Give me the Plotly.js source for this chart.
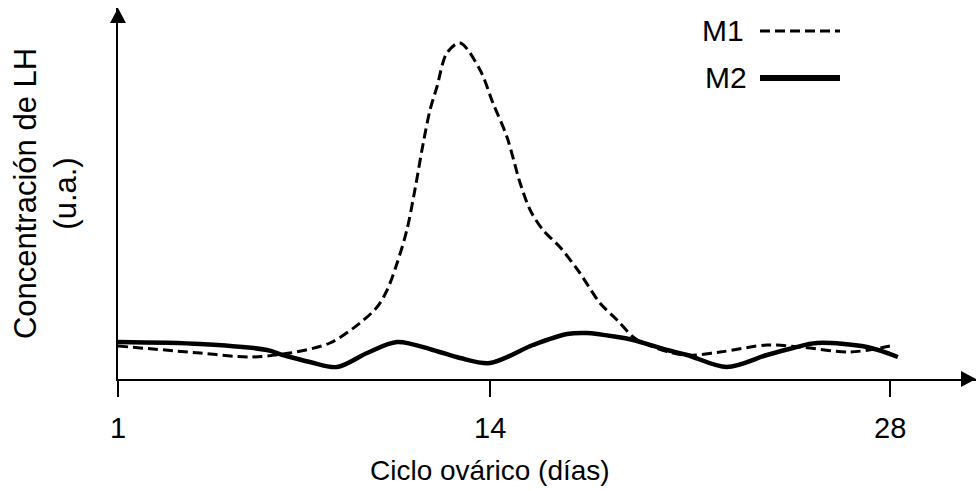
<!DOCTYPE html>
<html>
<head>
<meta charset="utf-8">
<script src="https://cdn.plot.ly/plotly-3.0.1.min.js"></script>
<style>html,body{margin:0;padding:0;background:#fff;}#chart{width:976px;height:491px;}</style>
</head>
<body>
<div id="chart"></div>
<script>
// Day of the ovarian cycle and LH concentration (arbitrary units)
const m1Days = [1.00, 3.87, 5.62, 7.01, 8.41, 9.46, 10.06, 10.41, 10.76, 11.10, 11.38, 11.66, 11.91, 12.15, 12.50, 12.96, 13.66, 14.11, 14.60, 15.06, 15.41, 15.86, 16.45, 17.15, 17.85, 18.45, 19.01, 19.36, 20.76, 22.05, 23.69, 24.85, 26.59, 27.99];
const m1LH   = [33, 26, 22, 26, 36, 56, 72, 89, 116, 149, 189, 234, 269, 292, 326, 336, 309, 276, 242, 196, 169, 149, 132, 106, 76, 59, 42, 36, 24, 27, 34, 32, 27, 33];
const m2Days = [1.00, 3.87, 6.21, 6.77, 7.71, 8.66, 9.71, 10.76, 12.01, 12.96, 14.01, 15.51, 16.70, 17.40, 18.45, 19.01, 20.20, 20.90, 22.29, 23.69, 24.60, 25.44, 27.19, 28.27];
const m2LH   = [37, 35, 29, 24, 17, 12, 26, 37, 29, 21, 16, 34, 45, 46, 42, 39, 29, 24, 12, 24, 31, 36, 32, 22];
const seriesNames = ['M1', 'M2'];
const tickDays = [1, 14, 28];
const tickText = ['1', '14', '28'];
const xTitle = 'Ciclo ovárico (días)';
const yTitle = 'Concentración de LH<br>(u.a.)';

const FONT = 'Liberation Sans, Arial, sans-serif';
const W = 976, H = 491, ML = 118, MR = 0, MT = 8, MB = 112;
const pw = W - ML - MR, ph = H - MT - MB;

const traces = [
  {x: m1Days, y: m1LH, name: seriesNames[0], type: 'scatter', mode: 'lines',
   line: {color: '#000', width: 3, dash: '10px,5px', shape: 'spline', smoothing: 0.9}},
  {x: m2Days, y: m2LH, name: seriesNames[1], type: 'scatter', mode: 'lines',
   line: {color: '#000', width: 4.5, shape: 'spline', smoothing: 0.9}}
];

// arrowheads in paper coordinates
const ax = 15 / pw, ay = 8 / ph;   // x-arrow: length, half-width
const bx = 8 / pw, by = 15 / ph;   // y-arrow: half-width, length
const shapes = [
  {type: 'path', xref: 'paper', yref: 'paper',
   path: `M 1 0 L ${1 - ax} ${ay} L ${1 - ax} ${-ay} Z`, fillcolor: '#000', line: {width: 0}},
  {type: 'path', xref: 'paper', yref: 'paper',
   path: `M 0 1 L ${-bx} ${1 - by} L ${bx} ${1 - by} Z`, fillcolor: '#000', line: {width: 0}},
  // legend samples (text left, line right)
  {type: 'line', xref: 'paper', yref: 'paper', x0: (760 - ML) / pw, x1: (840 - ML) / pw,
   y0: 1 - (31 - MT) / ph, y1: 1 - (31 - MT) / ph, line: {color: '#000', width: 3, dash: '10px,5px'}},
  {type: 'line', xref: 'paper', yref: 'paper', x0: (760 - ML) / pw, x1: (840 - ML) / pw,
   y0: 1 - (78 - MT) / ph, y1: 1 - (78 - MT) / ph, line: {color: '#000', width: 6}}
];

const annotations = [
  {xref: 'paper', yref: 'paper', x: (746 - ML) / pw, y: 1 - (30 - MT) / ph, xanchor: 'right', yanchor: 'middle',
   text: seriesNames[0], showarrow: false, font: {family: FONT, size: 30, color: '#000'}},
  {xref: 'paper', yref: 'paper', x: (749 - ML) / pw, y: 1 - (77 - MT) / ph, xanchor: 'right', yanchor: 'middle',
   text: seriesNames[1], showarrow: false, font: {family: FONT, size: 30, color: '#000'}},
  // x-axis title, centred under day 14 as in the original
  {xref: 'paper', yref: 'paper', x: (490 - ML) / pw, y: -(471 - (H - MB)) / ph, xanchor: 'center', yanchor: 'middle',
   text: xTitle, showarrow: false, font: {family: FONT, size: 28, color: '#000'}}
];
// tick labels placed on the x scale at each tick day
tickDays.forEach((d, i) => annotations.push({
  xref: 'x', yref: 'paper', x: d, y: -(428 - (H - MB)) / ph, xanchor: 'center', yanchor: 'middle',
  text: tickText[i], showarrow: false, font: {family: FONT, size: 29, color: '#000'}
}));

const layout = {
  width: W, height: H,
  margin: {l: ML, r: MR, t: MT, b: MB, pad: 0},
  paper_bgcolor: '#fff', plot_bgcolor: '#fff',
  showlegend: false,
  font: {family: FONT, color: '#000', size: 29},
  xaxis: {
    range: [1, 31], showgrid: false, zeroline: false,
    showline: true, linecolor: '#000', linewidth: 2,
    ticks: 'outside', ticklen: 16, tickwidth: 2, tickcolor: '#000',
    tickmode: 'array', tickvals: tickDays, showticklabels: false
  },
  yaxis: {
    range: [0, ph], showgrid: false, zeroline: false,
    showline: true, linecolor: '#000', linewidth: 2,
    ticks: '', showticklabels: false,
    title: {text: yTitle, font: {family: FONT, size: 31, color: '#000'}, standoff: 30}
  },
  shapes: shapes,
  annotations: annotations
};

Plotly.newPlot('chart', traces, layout, {staticPlot: true, displayModeBar: false});
</script>
</body>
</html>
